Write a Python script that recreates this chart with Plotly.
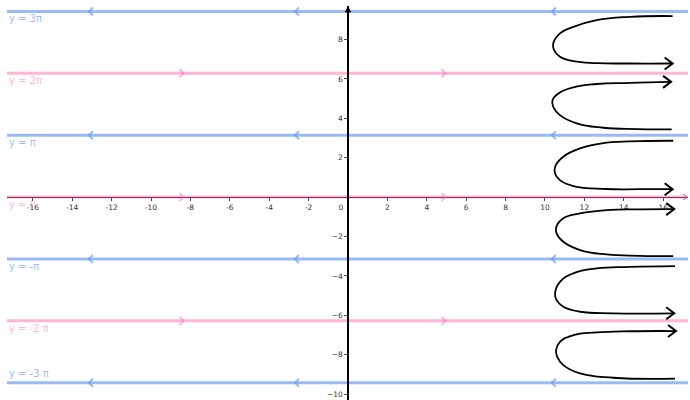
import math
import plotly.graph_objects as go

# ---------------- data ----------------
PI = math.pi
line_values = [3 * PI, 2 * PI, PI, 0.0, -PI, -2 * PI, -3 * PI]
line_labels = ["y = 3π", "y = 2π", "y = π", "y = 0", "y = -π", "y = -2 π", "y = -3 π"]
line_kinds = ["blue", "pink", "blue", "pink", "blue", "pink", "blue"]

blue_arrow_x = [-13.1, -2.64, 10.4]   # "<" markers on blue lines
pink_arrow_x = [-8.4, 4.9]            # ">" markers on pink lines

curve1_x = [16.48, 14.31, 12.62, 11.44, 10.76, 10.42, 10.46, 10.76, 11.44, 12.62, 14.31, 16.43]
curve1_y = [9.19, 9.15, 8.98, 8.64, 8.31, 7.80, 7.46, 7.12, 6.90, 6.80, 6.78, 6.78]
curve2_x = [16.35, 14.31, 12.62, 11.44, 10.68, 10.38, 10.42, 10.76, 11.61, 12.96, 14.65, 16.43]
curve2_y = [5.85, 5.80, 5.74, 5.57, 5.26, 4.92, 4.58, 4.16, 3.74, 3.52, 3.45, 3.44]
curve3_x = [16.51, 14.82, 13.13, 11.78, 10.93, 10.53, 10.51, 10.76, 11.44, 13.13, 14.82, 16.43]
curve3_y = [2.86, 2.84, 2.76, 2.47, 2.05, 1.58, 1.20, 0.86, 0.56, 0.41, 0.40, 0.40]
curve4_x = [16.51, 14.82, 13.13, 11.78, 10.93, 10.58, 10.59, 10.93, 11.78, 13.13, 14.82, 16.51]
curve4_y = [-0.61, -0.62, -0.66, -0.83, -1.08, -1.51, -1.84, -2.27, -2.69, -2.91, -2.98, -3.0]
curve5_x = [16.6, 14.31, 12.62, 11.44, 10.76, 10.51, 10.59, 10.93, 11.78, 13.47, 16.51]
curve5_y = [-3.50, -3.54, -3.62, -3.87, -4.30, -4.89, -5.23, -5.57, -5.82, -5.90, -5.90]
curve6_x = [16.6, 14.31, 12.62, 11.44, 10.76, 10.56, 10.62, 10.93, 11.78, 13.47, 16.6]
curve6_y = [-6.80, -6.81, -6.87, -7.01, -7.35, -7.77, -8.11, -8.53, -8.95, -9.17, -9.22]
curves = [(curve1_x, curve1_y, "end"), (curve2_x, curve2_y, "start"),
          (curve3_x, curve3_y, "end"), (curve4_x, curve4_y, "start"),
          (curve5_x, curve5_y, "end"), (curve6_x, curve6_y, "start")]

x_ticks = list(range(-16, 17, 2))
x_tick_text = [("0" + "\u2007" * 3) if v == 0 else str(v) for v in x_ticks]
y_ticks = [-10, -8, -6, -4, -2, 2, 4, 6, 8]

X_RANGE = [-17.31, 17.26]
Y_RANGE = [-10.30, 9.70]

# ---------------- style ----------------
BLUE = "rgba(100,149,237,0.65)"
PINK = "rgba(255,105,180,0.5)"
COL = {"blue": BLUE, "pink": PINK}
FONT = "DejaVu Sans"

fig = go.Figure()
shapes = []
annotations = []

for val, lab, kind in zip(line_values, line_labels, line_kinds):
    fig.add_trace(go.Scatter(x=X_RANGE, y=[val, val], mode="lines",
                             line=dict(color=COL[kind], width=3),
                             hoverinfo="skip", showlegend=False))
    xs = blue_arrow_x if kind == "blue" else pink_arrow_x
    path = "M 3,-4 L -1,0 L 3,4" if kind == "blue" else "M -3,-4 L 1,0 L -3,4"
    for ax in xs:
        shapes.append(dict(type="path", xref="x", yref="y", xsizemode="pixel", ysizemode="pixel",
                           xanchor=ax, yanchor=val, path=path,
                           line=dict(color=COL[kind], width=2)))
    below = val > -3 * PI + 0.01
    annotations.append(dict(x=0.0, xref="paper", y=val, yref="y", text=lab, showarrow=False,
                            xanchor="left", yanchor="top" if below else "bottom",
                            yshift=0 if below else 2,
                            font=dict(family=FONT, size=10, color=COL[kind])))

for cx, cy, where in curves:
    fig.add_trace(go.Scatter(x=cx, y=cy, mode="lines", line=dict(color="black", width=1.8),
                             line_shape="spline", line_smoothing=1.3,
                             hoverinfo="skip", showlegend=False))
    i = -1 if where == "end" else 0
    shapes.append(dict(type="path", xref="x", yref="y", xsizemode="pixel", ysizemode="pixel",
                       xanchor=cx[i], yanchor=cy[i], path="M -7,-6 L 1,0 L -7,6",
                       line=dict(color="black", width=2)))

# axis arrows
shapes.append(dict(type="path", xref="x", yref="y", xsizemode="pixel", ysizemode="pixel",
                   xanchor=0, yanchor=Y_RANGE[1], path="M -2.5,-6 L 0,-1 L 2.5,-6 Z",
                   line=dict(color="black", width=1), fillcolor="black"))
shapes.append(dict(type="path", xref="x", yref="y", xsizemode="pixel", ysizemode="pixel",
                   xanchor=X_RANGE[1], yanchor=0, path="M -5,-3 L -1,0 L -5,3",
                   line=dict(color="rgb(190,90,140)", width=1)))

xpos = (0 - Y_RANGE[0]) / (Y_RANGE[1] - Y_RANGE[0])
ypos = (0 - X_RANGE[0]) / (X_RANGE[1] - X_RANGE[0])

fig.update_layout(
    width=690, height=400,
    margin=dict(l=7, r=2, t=6, b=0, autoexpand=False),
    paper_bgcolor="white", plot_bgcolor="white",
    shapes=shapes, annotations=annotations,
    xaxis=dict(range=X_RANGE, anchor="free", position=xpos, showgrid=False, zeroline=False,
               automargin=False,
               showline=True, linecolor="black", linewidth=1, layer="below traces",
               tickmode="array", tickvals=x_ticks, ticktext=x_tick_text,
               ticks="outside", ticklen=3, tickcolor="#444", tickwidth=1,
               tickfont=dict(family=FONT, size=7.5, color="#333")),
    yaxis=dict(range=Y_RANGE, anchor="free", position=ypos, showgrid=False, zeroline=False,
               automargin=False,
               showline=True, linecolor="black", linewidth=1.5,
               tickmode="array", tickvals=y_ticks,
               ticks="outside", ticklen=3, tickcolor="#444", tickwidth=1,
               tickfont=dict(family=FONT, size=7.5, color="#333")),
)

fig.write_html("out.html", config={"displayModeBar": False},
               post_script="document.body.style.margin='0px';document.body.style.overflow='hidden';")
